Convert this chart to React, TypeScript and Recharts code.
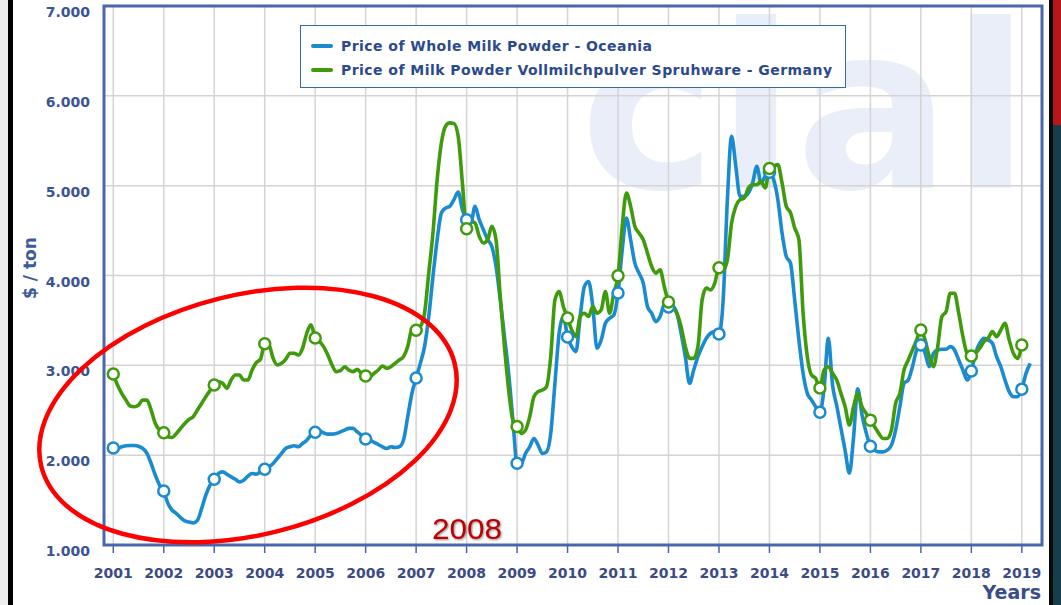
import React from 'react';
import { LineChart, Line, XAxis, YAxis, CartesianGrid, ReferenceArea } from 'recharts';

const START_YEAR = 2001;
const yearTicks = [2001, 2002, 2003, 2004, 2005, 2006, 2007, 2008, 2009, 2010, 2011, 2012, 2013, 2014, 2015, 2016, 2017, 2018, 2019];
const valueTicks = [1000, 2000, 3000, 4000, 5000, 6000, 7000];

// Monthly prices from Jan 2001
const oceania = [
  2080, 2075, 2093, 2104, 2108, 2108, 2100, 2075, 2019, 1907, 1777, 1666,
  1600, 1461, 1387, 1350, 1305, 1268, 1257, 1246, 1275, 1405, 1554, 1666,
  1733, 1796, 1814, 1788, 1758, 1733, 1703, 1721, 1766, 1796, 1788, 1814,
  1843, 1870, 1907, 1963, 2019, 2075, 2093, 2104, 2093, 2130, 2167, 2223,
  2256, 2268, 2249, 2234, 2234, 2242, 2260, 2279, 2298, 2298, 2260, 2223,
  2180, 2168, 2142, 2119, 2093, 2075, 2093, 2086, 2093, 2168, 2428, 2688,
  2858, 3022, 3208, 3543, 3989, 4398, 4695, 4751, 4770, 4844, 4930, 4732,
  4621, 4584, 4770, 4621, 4509, 4398, 4323, 4100, 3729, 3320, 2911, 2391,
  1910, 1907, 2019, 2093, 2186, 2112, 2019, 2037, 2242, 2800, 3357, 3543,
  3316, 3208, 3153, 3543, 3877, 3933, 3654, 3190, 3283, 3469, 3524, 3561,
  3806, 4286, 4640, 4398, 4138, 4026, 3915, 3654, 3580, 3487, 3543, 3673,
  3650, 3654, 3580, 3357, 3097, 2800, 2948, 3097, 3208, 3301, 3357, 3376,
  3350, 3729, 4844, 5550, 5216, 4881, 4881, 4918, 5030, 5216, 5030, 5104,
  5150, 5067, 4844, 4472, 4212, 4138, 3729, 3283, 2911, 2688, 2614, 2539,
  2479, 2750, 3300, 2780, 2550, 2300, 2050, 1800, 2200, 2740, 2450, 2250,
  2100, 2056, 2037, 2037, 2056, 2112, 2279, 2539, 2800, 2837, 2985, 3171,
  3226, 3134, 2985, 3134, 3171, 3179, 3179, 3208, 3171, 3060, 2948, 2837,
  2936, 3134, 3246, 3301, 3283, 3246, 3097, 2985, 2837, 2707, 2651, 2651,
  2735, 2911, 3022,
];

const germany = [
  2903, 2781, 2688, 2613, 2547, 2539, 2558, 2613, 2613, 2502, 2353, 2279,
  2249, 2205, 2197, 2242, 2297, 2353, 2398, 2428, 2502, 2576, 2651, 2718,
  2780, 2818, 2800, 2744, 2836, 2892, 2892, 2836, 2836, 2948, 3030, 3067,
  3240, 3227, 3078, 3004, 3022, 3067, 3134, 3134, 3115, 3190, 3357, 3450,
  3305, 3264, 3208, 3115, 3004, 2929, 2940, 2985, 2948, 2930, 2955, 2911,
  2881, 2874, 2911, 2948, 2993, 2967, 2985, 3022, 3060, 3097, 3208, 3394,
  3390, 3431, 3580, 4026, 4472, 5067, 5476, 5662, 5699, 5691, 5550, 5030,
  4520, 4602, 4584, 4435, 4361, 4398, 4547, 4398, 3766, 3208, 2725, 2391,
  2320, 2242, 2279, 2428, 2651, 2707, 2725, 2762, 3097, 3729, 3822, 3655,
  3527, 3394, 3320, 3543, 3580, 3543, 3654, 3580, 3617, 3822, 3580, 3803,
  3996, 4547, 4918, 4770, 4547, 4472, 4398, 4249, 4101, 4026, 4063, 3877,
  3706, 3654, 3580, 3431, 3208, 3078, 3078, 3208, 3729, 3859, 3840, 3915,
  4086, 4063, 4175, 4584, 4770, 4844, 4862, 4974, 5011, 5011, 5048, 4974,
  5190, 5216, 5234, 5030, 4770, 4700, 4530, 4400, 3580, 3097, 2892, 2855,
  2747, 2948, 2985, 2911, 2837, 2688, 2539, 2335, 2539, 2688, 2539, 2465,
  2390, 2316, 2242, 2186, 2186, 2279, 2577, 2688, 2948, 3060, 3171, 3283,
  3393, 3283, 3097, 2985, 3208, 3543, 3599, 3803, 3803, 3580, 3320, 3134,
  3103, 3134, 3190, 3264, 3301, 3376, 3320, 3394, 3469, 3283, 3134, 3078,
  3226,
];

const seriesNames = {
  oceania: 'Price of Whole Milk Powder - Oceania',
  germany: 'Price of Milk Powder Vollmilchpulver Spruhware - Germany',
};

const BLUE = '#1b8bcf';
const GREEN = '#3f9b0b';
const FONT = '"DejaVu Sans", Verdana, sans-serif';

const data = oceania.map((v, i) => ({
  t: START_YEAR + i / 12,
  month: i % 12,
  oceania: v,
  germany: i < germany.length ? germany[i] : null,
}));

const makeDot = (color: string) => (props: any) => {
  const { cx, cy, payload, index, value } = props;
  if (!payload || payload.month !== 0 || cx == null || cy == null || value == null) {
    return <g key={`n${index}`} />;
  }
  return <circle key={`d${index}`} cx={cx} cy={cy} r={5.5} fill="#ffffff" stroke={color} strokeWidth={2.5} />;
};

const YTick = (props: any) => (
  <text x={props.x} y={props.y + 6} textAnchor="end" dominantBaseline="central" fill="#3a5494"
    fontFamily={FONT} fontWeight="bold" fontSize={14}>
    {(props.payload.value / 1000).toFixed(3)}
  </text>
);

const XTick = (props: any) => (
  <text x={props.x} y={props.y + 18} textAnchor="middle" dominantBaseline="central" fill="#3b4b85"
    fontFamily={FONT} fontWeight="bold" fontSize={14}>
    {props.payload.value}
  </text>
);

export default function App() {
  return (
    <div style={{ position: 'absolute', left: 0, top: 0, width: 1061, height: 605, background: '#ffffff', overflow: 'hidden' }}>
      {/* watermark logo, drawn behind the plot */}
      <svg width={1061} height={605} style={{ position: 'absolute', left: 0, top: 0, zIndex: 0 }}>
        <text x={580} y={188} fontFamily={FONT} fontWeight="bold" fontSize={228} fill="#e9eef8"
          textLength={450} lengthAdjust="spacingAndGlyphs">clal</text>
      </svg>
      <div style={{ position: 'absolute', left: 0, top: 0, zIndex: 1 }}>
        <LineChart width={1061} height={605} data={data} margin={{ top: 6, right: 19, bottom: 0, left: 0 }}>
          <CartesianGrid stroke="#d4d4d4" strokeWidth={1.5} />
          <XAxis type="number" dataKey="t" domain={[2000.816, 2019.4]} ticks={yearTicks} allowDataOverflow
            height={60} axisLine={false} tickSize={8} tickLine={{ stroke: '#4a66ad', strokeWidth: 1.5 }} tick={<XTick />} interval={0} />
          <YAxis type="number" domain={[1000, 7000]} ticks={valueTicks} width={104} axisLine={false}
            tickLine={false} tickMargin={8} tick={<YTick />} interval={0} />
          <Line type="monotone" dataKey="oceania" name={seriesNames.oceania} stroke={BLUE} strokeWidth={3.6}
            dot={makeDot(BLUE)} activeDot={false} isAnimationActive={false} connectNulls={false} />
          <Line type="monotone" dataKey="germany" name={seriesNames.germany} stroke={GREEN} strokeWidth={3.6}
            dot={makeDot(GREEN)} activeDot={false} isAnimationActive={false} connectNulls={false} />
          <ReferenceArea x1={2000.816} x2={2019.4} y1={1000} y2={7000} fill="none" fillOpacity={0}
            stroke="#4a66ad" strokeWidth={3} ifOverflow="visible" />
        </LineChart>
      </div>
      {/* legend */}
      <div style={{ position: 'absolute', left: 300, top: 25, width: 544, height: 61, border: '1.5px solid #2f6f9f', background: '#ffffff', zIndex: 3, fontFamily: FONT, fontWeight: 'bold', fontSize: 14, letterSpacing: 0.45, color: '#2b4a8b' }}>
        {[{ c: BLUE, n: seriesNames.oceania, top: 11 }, { c: GREEN, n: seriesNames.germany, top: 35 }].map((it) => (
          <div key={it.n} style={{ position: 'absolute', left: 10, top: it.top, height: 18, display: 'flex', alignItems: 'center', whiteSpace: 'nowrap' }}>
            <span style={{ display: 'inline-block', width: 22, height: 4, borderRadius: 2, background: it.c, marginRight: 8 }} />
            <span>{it.n}</span>
          </div>
        ))}
      </div>
      {/* annotations */}
      <svg width={1061} height={605} style={{ position: 'absolute', left: 0, top: 0, zIndex: 4, pointerEvents: 'none' }}>
        <text x={30} y={268} transform="rotate(-90 30 268)" textAnchor="middle" dominantBaseline="central"
          fontFamily={FONT} fontWeight="bold" fontSize={17} fill="#3d5a9a">$ / ton</text>
        <text x={1041} y={592} textAnchor="end" dominantBaseline="central"
          fontFamily={FONT} fontWeight="bold" fontSize={19} fill="#3b4d89">Years</text>
        <ellipse cx={248} cy={415} rx={213} ry={120} transform="rotate(-14 248 415)" fill="none" stroke="#ff0000" strokeWidth={4.5} />
        <text x={432} y={538.5} fontFamily='"Liberation Sans", Arial, sans-serif' fontSize={30} fill="#c00000"
          textLength={70} lengthAdjust="spacingAndGlyphs" style={{ filter: 'drop-shadow(1.5px 1.5px 1px rgba(0,0,0,0.45))' }}>2008</text>
        {/* screenshot frame edges */}
        <rect x={0} y={0} width={8} height={605} fill="#eeeeee" />
        <rect x={8} y={0} width={5} height={605} fill="#000000" />
        <rect x={1049} y={0} width={4} height={605} fill="#0a0a0a" />
        <rect x={1053} y={0} width={8} height={125} fill="#b5171a" />
        <rect x={1053} y={125} width={8} height={480} fill="#163e4b" />
      </svg>
    </div>
  );
}
